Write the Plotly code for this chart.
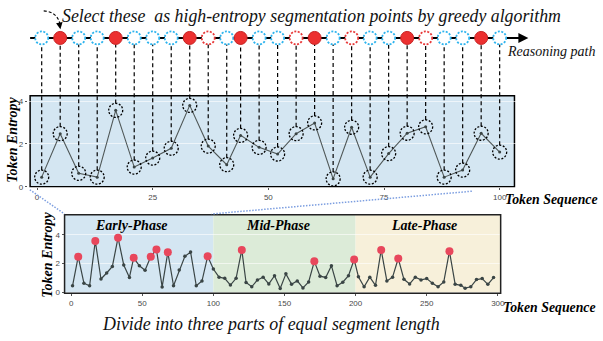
import plotly.graph_objects as go

W, H = 603, 341

# ---------------- data ----------------
token_pos = [1, 5, 9, 13, 17, 21, 25, 29, 33, 37, 41, 44, 48, 52, 56, 60, 64, 68, 72, 76, 80, 84, 88, 92, 96, 100,
             104, 108, 112, 116, 120, 123, 127, 131, 135, 139, 143, 147, 151, 155, 159, 163, 167, 171, 175, 179,
             183, 187, 191, 195, 199,
             202, 206, 210, 214, 218, 222, 226, 230, 234, 238, 242, 246, 250, 254, 258, 262, 266, 270, 274, 277,
             281, 285, 289, 293, 297]
entropy = [0.45, 2.48, 0.63, 0.45, 3.57, 0.92, 1.34, 1.80, 3.80, 1.90, 1.03, 2.40, 1.84, 1.53, 2.48, 2.98,
           0.37, 2.78, 0.45, 1.55, 2.50, 2.80, 0.45, 0.78, 2.50, 1.62,
           1.05, 0.97, 0.50, 0.97, 2.95, 0.68, 0.38, 0.86, 1.05, 0.58, 1.15, 0.26, 1.28, 0.56, 0.79, 0.30,
           0.72, 2.15, 1.12, 1.03, 1.85, 0.45, 0.70, 1.15, 2.28,
           1.08, 0.38, 1.05, 0.48, 2.95, 0.79, 1.05, 2.35, 0.90, 0.58, 1.05, 0.86, 0.95, 0.63, 0.38, 0.72,
           2.85, 0.56, 0.48, 0.28, 0.38, 0.88, 0.95, 0.55, 1.02]
high_entropy_idx = [1, 4, 8, 11, 14, 15, 17, 24, 30, 43, 50, 55, 58, 67]

zoom_count = 26  # tokens shown in the magnified upper chart
path_kind = ["cand", "sel", "cand", "cand", "sel", "cand", "cand", "cand", "sel", "rej", "cand", "sel", "cand",
             "cand", "rej", "sel", "cand", "rej", "cand", "cand", "sel", "rej", "cand", "cand", "sel", "cand"]

phase_edges = [0, 100, 200, 300]
phase_names = ["Early-Phase", "Mid-Phase", "Late-Phase"]
phase_colors = ["#d4e6f2", "#dcebd8", "#f7f0da"]

upper_xticks = [0, 25, 50, 75, 100]
lower_xticks = [0, 50, 100, 150, 200, 250, 300]
yticks = [0, 2, 4]

# ---------------- geometry helpers ----------------
def px(x):
    return x / W

def py(y):
    return 1 - y / H

SERIF = "Liberation Serif"
SANS = "Liberation Sans"

# upper axis ranges / domains
ux_range = [-2, 107]
uy_range = [-0.03, 7.6]
ux_dom = [px(28.0), px(535.6)]
uy_dom = [py(189.65), py(24.3)]
u_ppu = (189.65 - 24.3) / (uy_range[1] - uy_range[0])  # pixels per y unit
path_y = 6.95
box_x = [-1.5, 103.2]
box_y = [0.0, 4.25]

# lower axis
lx_range = [-4.6, 302]
ly_range = [-0.07, 5.4]
lx_dom = [px(65), px(504)]
ly_dom = [py(296.7), py(217.3)]

fig = go.Figure()

zx = token_pos[:zoom_count]
zy = entropy[:zoom_count]

# reasoning path line
fig.add_trace(go.Scatter(x=[box_x[0], 105], y=[path_y, path_y], mode="lines",
                         line=dict(color="black", width=2), xaxis="x", yaxis="y", hoverinfo="skip"))

# dashed connectors
r_pt = 7.0 / u_ppu
r_top = 6.5 / u_ppu
vx, vy = [], []
for x, v in zip(zx, zy):
    vx += [x, x, None]
    vy += [v + r_pt, path_y - r_top, None]
fig.add_trace(go.Scatter(x=vx, y=vy, mode="lines", line=dict(color="black", width=1.2, dash="4px,3px"),
                         xaxis="x", yaxis="y", hoverinfo="skip"))

# upper entropy line
fig.add_trace(go.Scatter(x=zx, y=zy, mode="lines+markers", line=dict(color="#505858", width=1.1),
                         marker=dict(size=3, color="#3a4444"), xaxis="x", yaxis="y"))

# lower entropy line
fig.add_trace(go.Scatter(x=token_pos, y=entropy, mode="lines+markers", line=dict(color="#3a4545", width=1.2),
                         marker=dict(size=3.5, color="#3a4545"), xaxis="x2", yaxis="y2"))
fig.add_trace(go.Scatter(x=[token_pos[i] for i in high_entropy_idx], y=[entropy[i] for i in high_entropy_idx],
                         mode="markers", marker=dict(size=8, color="#e8475c"), xaxis="x2", yaxis="y2"))

shapes = []
# upper box
shapes.append(dict(type="rect", xref="x", yref="y", x0=box_x[0], x1=box_x[1], y0=box_y[0], y1=box_y[1],
                   fillcolor="#d4e6f2", line=dict(color="black", width=1.5), layer="below"))
# dotted circles around points
for x, v in zip(zx, zy):
    shapes.append(dict(type="circle", xref="x", yref="y", xsizemode="pixel", ysizemode="pixel",
                       xanchor=x, yanchor=v, x0=-7, x1=7, y0=-7, y1=7,
                       line=dict(color="black", width=1.3, dash="2px,1.6px"), layer="above"))
# path circles
for x, kind in zip(zx, path_kind):
    if kind == "sel":
        line = dict(color="#c72323", width=1)
        fill = "#ec3030"
    elif kind == "rej":
        line = dict(color="#e83a3a", width=1.8, dash="2px,1.5px")
        fill = "white"
    else:
        line = dict(color="#2eb4ee", width=1.8, dash="2px,1.5px")
        fill = "white"
    shapes.append(dict(type="circle", xref="x", yref="y", xsizemode="pixel", ysizemode="pixel",
                       xanchor=x, yanchor=path_y, x0=-6.5, x1=6.5, y0=-6.5, y1=6.5,
                       line=line, fillcolor=fill, layer="above"))

# lower phase backgrounds
for i, (name, col) in enumerate(zip(phase_names, phase_colors)):
    x0 = lx_range[0] if i == 0 else phase_edges[i]
    x1 = lx_range[1] if i == len(phase_names) - 1 else phase_edges[i + 1]
    shapes.append(dict(type="rect", xref="x2", yref="y2 domain", x0=x0, x1=x1, y0=0, y1=1,
                       fillcolor=col, line=dict(width=0), layer="below"))
shapes.append(dict(type="rect", xref="x2 domain", yref="y2 domain", x0=0, x1=1, y0=0, y1=1,
                   line=dict(color="#222", width=1.5), layer="above"))

# zoom connectors (dotted blue)
shapes.append(dict(type="line", xref="paper", yref="paper", x0=px(30), y0=py(192), x1=px(65), y1=py(216.5),
                   line=dict(color="#7c9ee0", width=1.5, dash="1.5px,1.5px")))
shapes.append(dict(type="line", xref="paper", yref="paper", x0=px(475), y0=py(193.5), x1=px(213), y1=py(216.5),
                   line=dict(color="#7c9ee0", width=1.5, dash="1.5px,1.5px")))
# curved pointer
shapes.append(dict(type="path", xref="paper", yref="paper",
                   path=f"M {px(44)},{py(11)} Q {px(58)},{py(12)} {px(60.5)},{py(25)}",
                   line=dict(color="black", width=1.1, dash="3px,2px")))

annotations = []
annotations.append(dict(xref="paper", yref="paper", x=px(60.8), y=py(29.5), ax=-1, ay=-6, text="",
                        showarrow=True, arrowhead=2, arrowsize=1.2, arrowwidth=1.1, arrowcolor="black"))
# path arrow head
annotations.append(dict(xref="x", yref="y", x=106.2, y=path_y, ax=103, ay=path_y, axref="x", ayref="y",
                        text="", showarrow=True, arrowhead=2, arrowsize=1, arrowwidth=2, arrowcolor="black"))

annotations.append(dict(xref="paper", yref="paper", x=px(313.5), y=py(16), xanchor="center", yanchor="middle",
                        text="Select these\u00a0 as high-entropy segmentation points by greedy algorithm",
                        showarrow=False, font=dict(family=SERIF, size=17.8, style="italic", color="#111")))
annotations.append(dict(xref="paper", yref="paper", x=px(508), y=py(52), xanchor="left", yanchor="middle",
                        text="Reasoning path", showarrow=False,
                        font=dict(family=SERIF, size=14, style="italic", color="#111")))
annotations.append(dict(xref="paper", yref="paper", x=px(12.5), y=py(141), xanchor="center", yanchor="middle",
                        text="Token Entropy", textangle=-90, showarrow=False,
                        font=dict(family=SERIF, size=14, style="italic", weight="bold", color="black")))
annotations.append(dict(xref="paper", yref="paper", x=px(47.5), y=py(257.5), xanchor="center", yanchor="middle",
                        text="Token Entropy", textangle=-90, showarrow=False,
                        font=dict(family=SERIF, size=14, style="italic", weight="bold", color="black")))
annotations.append(dict(xref="paper", yref="paper", x=px(555), y=py(202), xanchor="center", yanchor="middle",
                        text="Token Sequence", showarrow=False,
                        font=dict(family=SERIF, size=13.8, style="italic", weight="bold", color="black")))
annotations.append(dict(xref="paper", yref="paper", x=px(553), y=py(311), xanchor="center", yanchor="middle",
                        text="Token Sequence", showarrow=False,
                        font=dict(family=SERIF, size=13.8, style="italic", weight="bold", color="black")))
annotations.append(dict(xref="paper", yref="paper", x=px(273), y=py(328), xanchor="center", yanchor="middle",
                        text="Divide into three parts of equal segment length", showarrow=False,
                        font=dict(family=SERIF, size=17.9, style="italic", color="#111")))
phase_label_px = [132, 280, 427]
for name, lx in zip(phase_names, phase_label_px):
    annotations.append(dict(xref="paper", yref="paper", x=px(lx), y=py(228), xanchor="center",
                            yanchor="middle", text=name, showarrow=False,
                            font=dict(family=SERIF, size=14, style="italic", weight="bold", color="black")))

tickfont = dict(family=SANS, size=8, color="#4a4a4a")
fig.update_layout(
    width=W, height=H, margin=dict(l=0, r=0, t=0, b=0),
    paper_bgcolor="white", plot_bgcolor="rgba(0,0,0,0)", showlegend=False,
    shapes=shapes, annotations=annotations,
    xaxis=dict(domain=ux_dom, range=ux_range, tickvals=upper_xticks, showgrid=False, zeroline=False,
               showline=False, ticks="outside", ticklen=2, tickcolor="#555", tickfont=tickfont, anchor="y"),
    yaxis=dict(domain=uy_dom, range=uy_range, tickvals=yticks, showgrid=True, gridcolor="rgba(255,255,255,0.6)",
               zeroline=False, showline=False, ticks="outside", ticklen=2, tickcolor="#555", tickfont=tickfont,
               anchor="x"),
    xaxis2=dict(domain=lx_dom, range=lx_range, tickvals=lower_xticks, showgrid=False, zeroline=False,
                showline=False, ticks="outside", ticklen=2, tickcolor="#555", tickfont=tickfont, anchor="y2"),
    yaxis2=dict(domain=ly_dom, range=ly_range, tickvals=yticks, showgrid=True, gridcolor="rgba(255,255,255,0.6)",
                zeroline=False, showline=False, ticks="outside", ticklen=2, tickcolor="#555", tickfont=tickfont,
                anchor="x2"),
)

fig.write_html("out.html", config={"displayModeBar": False},
               post_script="document.body.style.margin='0';")
